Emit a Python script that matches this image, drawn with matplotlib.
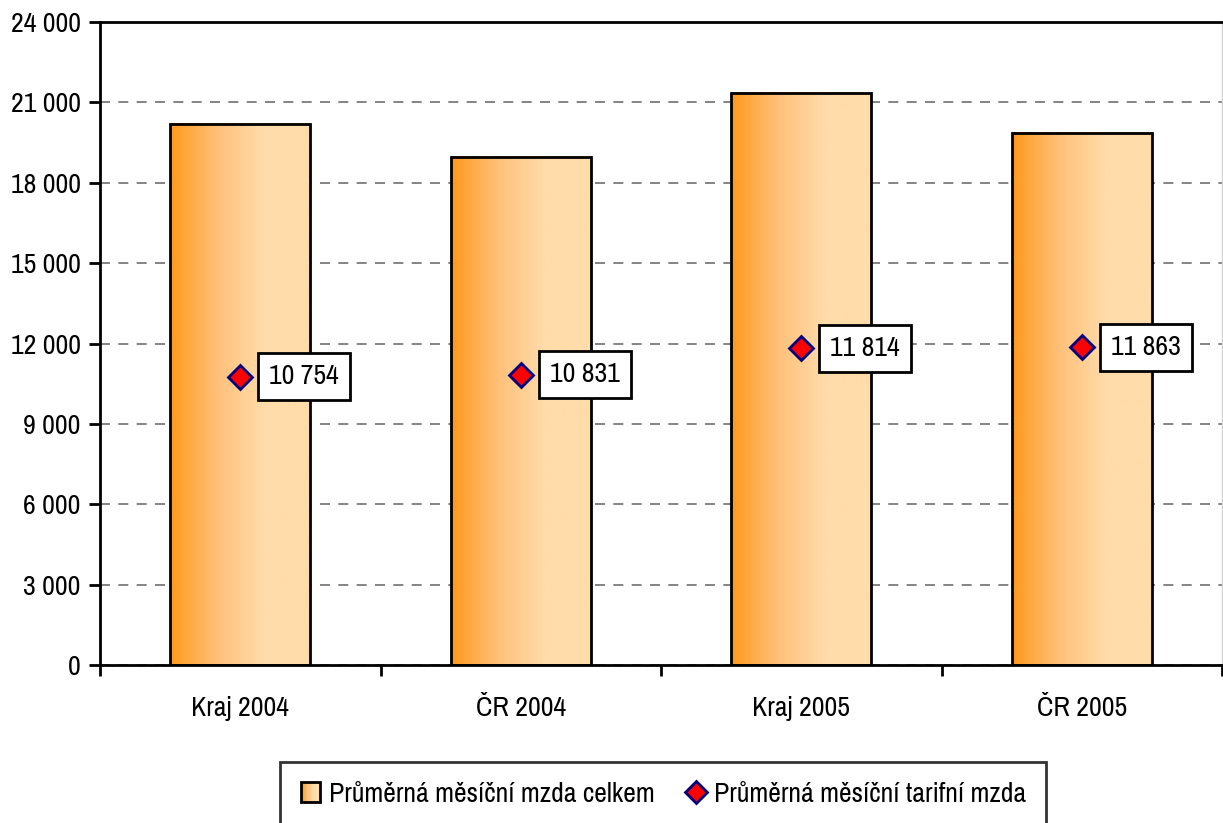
import numpy as np
import matplotlib.pyplot as plt
from matplotlib.patches import Rectangle
from matplotlib.lines import Line2D
from matplotlib.legend_handler import HandlerBase
from matplotlib.colors import LinearSegmentedColormap

plt.rcParams['font.family'] = ['Archivo Narrow', 'Liberation Sans', 'DejaVu Sans']

categories = ['Kraj 2004', 'ČR 2004', 'Kraj 2005', 'ČR 2005']
mzda_celkem = [20194, 18962, 21351, 19858]
mzda_tarifni = [10754, 10831, 11814, 11863]
tarif_labels = ['10 754', '10 831', '11 814', '11 863']
yticks = list(range(0, 24001, 3000))

fig = plt.figure(figsize=(12.23, 8.23), dpi=100)
ax = fig.add_axes([100 / 1223, 1 - 665 / 823, 1122 / 1223, 643 / 823])

x = np.arange(len(categories))
width = 0.5

# gradient fill for bars
grad = np.linspace(0, 1, 256).reshape(1, -1)
cmap = LinearSegmentedColormap.from_list('og', ['#ff991c', '#ffc07a', '#ffdcaa', '#ffdcaa'])
for xi, h in zip(x, mzda_celkem):
    ax.imshow(grad, cmap=cmap, aspect='auto', extent=(xi - width / 2, xi + width / 2, 0, h), zorder=2)
    ax.add_patch(Rectangle((xi - width / 2, 0), width, h, fill=False, edgecolor='black', lw=2, zorder=3))

ax.plot(x, mzda_tarifni, linestyle='none', marker='D', markersize=12, markerfacecolor='red',
        markeredgecolor='#000080', markeredgewidth=2, zorder=5)
for xi, v, t in zip(x, mzda_tarifni, tarif_labels):
    ax.annotate(t, (xi, v), xytext=(21, 0), textcoords='offset points', ha='left', va='center',
                fontsize=20, zorder=6,
                bbox=dict(boxstyle='square,pad=0.4', facecolor='white', edgecolor='black', lw=2))

ax.set_xlim(-0.5, 3.5)
ax.set_ylim(0, 24000)
ax.set_yticks(yticks)
ax.set_yticklabels([f'{v:,}'.replace(',', ' ') for v in yticks], fontsize=20)
ax.yaxis.grid(True, linestyle=(0, (6, 5)), color='#707070', lw=1.2, zorder=0)
ax.set_axisbelow(True)

ax.set_xticks(np.arange(-0.5, 3.6, 1))
ax.set_xticklabels([])
ax.set_xticks(x, minor=True)
ax.set_xticklabels(categories, minor=True, fontsize=20)
ax.tick_params(axis='x', which='minor', length=0, pad=22)
ax.tick_params(axis='x', which='major', length=8, width=2, direction='out')
ax.tick_params(axis='y', length=8, width=2, direction='out', pad=6)

for s in ['left', 'bottom', 'top']:
    ax.spines[s].set_linewidth(2)
ax.spines['right'].set_color('#d0d0d0')
ax.spines['right'].set_linewidth(1)


class GradBox(HandlerBase):
    def create_artists(self, legend, orig, xd, yd, w, h, fontsize, trans):
        s = h * 1.0
        im_x = xd + (w - s) / 2
        arts = []
        n = 12
        cols = cmap(np.linspace(0, 1, n))
        for i in range(n):
            r = Rectangle((im_x + i * s / n, yd), s / n, s, facecolor=cols[i], edgecolor='none', transform=trans)
            arts.append(r)
        arts.append(Rectangle((im_x, yd), s, s, fill=False, edgecolor='black', lw=2, transform=trans))
        return arts


bar_handle = Rectangle((0, 0), 1, 1)
dia_handle = Line2D([], [], linestyle='none', marker='D', markersize=11, markerfacecolor='red',
                    markeredgecolor='#000080', markeredgewidth=2)
leg = fig.legend([bar_handle, dia_handle],
                 ['Průměrná měsíční mzda celkem', 'Průměrná měsíční tarifní mzda'],
                 handler_map={Rectangle: GradBox()},
                 loc='center', bbox_to_anchor=(663 / 1223, 1 - 794 / 823), ncol=2,
                 fontsize=20, frameon=True, fancybox=False, edgecolor='black',
                 handlelength=0.8, handletextpad=0.25, columnspacing=1.1, borderpad=0.7)
leg.get_frame().set_linewidth(2)

fig.savefig('out.png', dpi=100)
